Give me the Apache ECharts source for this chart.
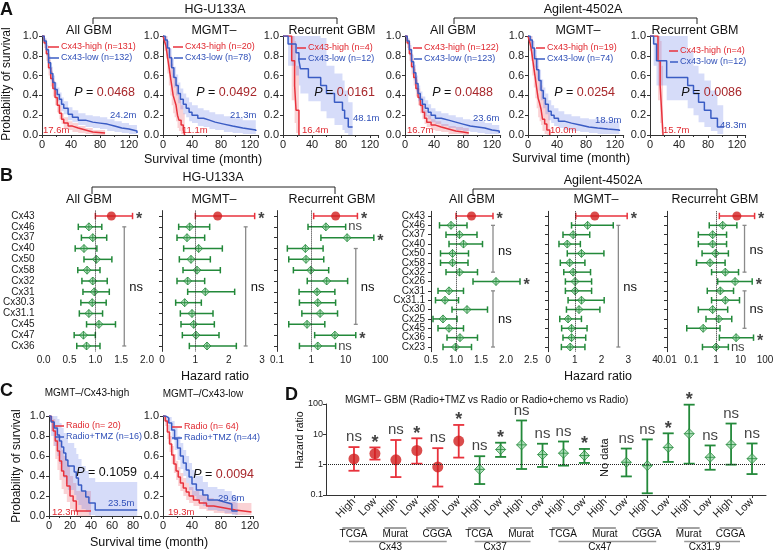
<!DOCTYPE html>
<html><head><meta charset="utf-8"><title>Cx43 survival and hazard ratios</title>
<script src="https://cdn.jsdelivr.net/npm/echarts@6/dist/echarts.min.js"></script>
<style>html,body{margin:0;padding:0;background:#fff;}#chart{width:779px;height:551px;}</style>
</head><body><div id="chart"></div>
<script>
// ---------------- DATA ----------------
// Panel A: Kaplan-Meier curves (time in months, survival, lower CI, upper CI)
// HG-U133A All GBM
const a1hT=[0,3,6,9,12,15,18,21,24,27,30,36,42,50,60,70,87];
const a1hS=[1,0.93,0.82,0.68,0.57,0.47,0.38,0.3,0.22,0.16,0.12,0.09,0.07,0.05,0.03,0.02,0.02];
const a1hL=[1,0.88,0.75,0.6,0.49,0.39,0.3,0.23,0.16,0.11,0.07,0.05,0.03,0.02,0.01,0,0];
const a1hU=[1,0.97,0.88,0.76,0.65,0.55,0.46,0.38,0.29,0.22,0.18,0.14,0.12,0.09,0.07,0.05,0.05];
const a1lT=[0,3,6,9,12,15,18,21,24,27,30,36,42,50,60,70,80,90,100,110,120,131];
const a1lS=[1,0.95,0.86,0.73,0.62,0.53,0.46,0.41,0.36,0.31,0.27,0.21,0.18,0.15,0.13,0.12,0.11,0.09,0.07,0.06,0.04,0.02];
const a1lL=[1,0.91,0.8,0.66,0.55,0.46,0.39,0.34,0.29,0.24,0.21,0.15,0.13,0.1,0.08,0.07,0.06,0.04,0.03,0.02,0.01,0];
const a1lU=[1,0.98,0.91,0.8,0.69,0.6,0.53,0.48,0.43,0.38,0.34,0.28,0.25,0.22,0.2,0.19,0.18,0.16,0.14,0.12,0.1,0.08];
// HG-U133A MGMT-
const a2hT=[0,2,4,6,8,10,12,14,16,18,20,22,25,28,30];
const a2hS=[1,0.95,0.9,0.8,0.7,0.6,0.5,0.4,0.35,0.3,0.2,0.15,0.1,0.05,0];
const a2hL=[1,0.85,0.77,0.62,0.5,0.4,0.3,0.22,0.18,0.14,0.07,0.04,0.01,0,0];
const a2hU=[1,1,1,0.95,0.88,0.8,0.72,0.62,0.57,0.52,0.42,0.36,0.3,0.22,0.15];
const a2lT=[0,3,6,9,12,15,18,21,24,28,32,36,40,48,56,64,72,84,96,110,128];
const a2lS=[1,0.96,0.88,0.78,0.68,0.58,0.5,0.42,0.36,0.31,0.27,0.23,0.2,0.17,0.15,0.13,0.11,0.09,0.07,0.05,0.04];
const a2lL=[1,0.91,0.8,0.69,0.58,0.48,0.4,0.32,0.26,0.21,0.18,0.14,0.12,0.09,0.08,0.06,0.05,0.03,0.02,0.01,0.01];
const a2lU=[1,1,0.95,0.87,0.78,0.69,0.61,0.53,0.47,0.42,0.38,0.33,0.3,0.27,0.25,0.23,0.21,0.19,0.17,0.15,0.14];
// HG-U133A Recurrent GBM
const a3hT=[0,12,16,18,22];
const a3hS=[1,0.75,0.5,0.25,0];
const a3hL=[1,0.35,0.12,0.02,0];
const a3hU=[1,1,0.95,0.7,0.45];
const a3lT=[0,7,18,22,24,35,52,60,71,82,85,90,96];
const a3lS=[1,0.92,0.83,0.75,0.67,0.58,0.5,0.42,0.33,0.25,0.17,0.08,0.08];
const a3lL=[1,0.7,0.6,0.5,0.42,0.34,0.24,0.17,0.1,0.05,0.02,0,0];
const a3lU=[1,1,1,1,1,1,0.98,0.7,0.62,0.55,0.45,0.33,0.33];
// Agilent-4502A All GBM
const a4hT=[0,3,6,9,12,15,18,21,24,27,30,36,42,50,60,70,80,88];
const a4hS=[1,0.93,0.82,0.69,0.58,0.47,0.38,0.3,0.23,0.17,0.13,0.1,0.08,0.06,0.04,0.03,0.02,0.02];
const a4hL=[1,0.88,0.75,0.61,0.5,0.39,0.3,0.22,0.16,0.11,0.08,0.05,0.04,0.03,0.01,0.01,0,0];
const a4hU=[1,0.97,0.88,0.77,0.67,0.56,0.47,0.39,0.31,0.25,0.2,0.16,0.14,0.11,0.09,0.08,0.07,0.07];
const a4lT=[0,3,6,9,12,15,18,21,24,28,32,36,42,50,60,70,80,90,100,110,120,130];
const a4lS=[1,0.95,0.86,0.74,0.63,0.52,0.42,0.36,0.31,0.27,0.23,0.2,0.17,0.15,0.13,0.11,0.09,0.08,0.07,0.05,0.04,0.02];
const a4lL=[1,0.91,0.8,0.67,0.55,0.44,0.34,0.28,0.23,0.19,0.16,0.13,0.11,0.09,0.07,0.05,0.04,0.03,0.02,0.01,0.01,0];
const a4lU=[1,0.98,0.91,0.81,0.71,0.6,0.5,0.44,0.39,0.35,0.31,0.27,0.24,0.22,0.2,0.18,0.16,0.15,0.14,0.12,0.1,0.08];
// Agilent-4502A MGMT-
const a5hT=[0,2,4,6,8,10,12,14,16,18,20,23,26,30];
const a5hS=[1,0.95,0.89,0.79,0.68,0.58,0.47,0.37,0.32,0.26,0.16,0.11,0.05,0];
const a5hL=[1,0.85,0.75,0.6,0.48,0.37,0.27,0.18,0.14,0.1,0.04,0.01,0,0];
const a5hU=[1,1,1,0.95,0.88,0.8,0.7,0.6,0.55,0.5,0.38,0.32,0.24,0.15];
const a5lT=[0,3,6,9,12,15,18,21,24,28,32,36,42,50,60,72,84,96,110,126];
const a5lS=[1,0.96,0.88,0.77,0.66,0.55,0.45,0.37,0.31,0.24,0.2,0.17,0.14,0.12,0.1,0.08,0.07,0.06,0.05,0.04];
const a5lL=[1,0.91,0.8,0.68,0.56,0.45,0.35,0.27,0.21,0.15,0.12,0.09,0.07,0.05,0.04,0.03,0.02,0.01,0.01,0];
const a5lU=[1,1,0.95,0.86,0.76,0.66,0.56,0.48,0.42,0.35,0.3,0.27,0.24,0.21,0.19,0.17,0.16,0.15,0.14,0.13];
// Agilent-4502A Recurrent GBM
const a6hT=[0,11,14,16,18];
const a6hS=[1,0.75,0.5,0.25,0];
const a6hL=[1,0.35,0.12,0.02,0];
const a6hU=[1,1,0.95,0.7,0.45];
const a6lT=[0,5,9,23,52,60,67,75,84,93,101];
const a6lS=[1,0.92,0.75,0.58,0.5,0.42,0.33,0.25,0.17,0.08,0.08];
const a6lL=[1,0.7,0.5,0.35,0.27,0.2,0.13,0.08,0.04,0.01,0.01];
const a6lU=[1,1,1,1,0.85,0.7,0.62,0.55,0.45,0.3,0.3];

// Panel C: MGMT-/Cx43-high and MGMT-/Cx43-low, Radio vs Radio+TMZ
const c1rT=[0,2,4,6,8,10,12,14,17,20,23,26,40];
const c1rS=[1,0.95,0.85,0.75,0.65,0.55,0.45,0.4,0.3,0.2,0.15,0.05,0.05];
const c1rL=[1,0.85,0.7,0.57,0.46,0.36,0.27,0.22,0.14,0.07,0.04,0,0];
const c1rU=[1,1,0.97,0.9,0.82,0.74,0.66,0.6,0.5,0.4,0.33,0.25,0.25];
const c1bT=[0,2,5,8,10,12,14,16,18,24,26,28,31,35,38,44,84];
const c1bS=[1,0.94,0.88,0.81,0.75,0.69,0.63,0.56,0.5,0.44,0.38,0.31,0.25,0.19,0.13,0.06,0.06];
const c1bL=[1,0.8,0.7,0.6,0.52,0.45,0.38,0.32,0.26,0.21,0.16,0.11,0.07,0.04,0.01,0,0];
const c1bU=[1,1,1,0.97,0.93,0.88,0.83,0.78,0.73,0.68,0.62,0.57,0.5,0.45,0.38,0.34,0.34];
const c2rT=[0,3,6,9,12,15,18,21,24,28,32,36,42,50,60,70,85,100,122];
const c2rS=[1,0.95,0.84,0.72,0.61,0.52,0.45,0.39,0.33,0.28,0.24,0.2,0.16,0.13,0.1,0.08,0.06,0.04,0.04];
const c2rL=[1,0.9,0.77,0.64,0.52,0.43,0.36,0.3,0.25,0.2,0.16,0.13,0.1,0.07,0.05,0.03,0.02,0.01,0.01];
const c2rU=[1,0.99,0.91,0.8,0.7,0.62,0.55,0.49,0.43,0.38,0.33,0.29,0.25,0.21,0.18,0.16,0.14,0.13,0.13];
const c2bT=[0,4,8,12,16,20,24,28,32,36,40,46,55,62,75,85,95,103];
const c2bS=[1,0.98,0.93,0.86,0.77,0.68,0.6,0.53,0.46,0.39,0.32,0.26,0.21,0.16,0.14,0.12,0.05,0.05];
const c2bL=[1,0.93,0.85,0.76,0.66,0.56,0.47,0.4,0.33,0.26,0.2,0.15,0.1,0.06,0.05,0.03,0.01,0.01];
const c2bU=[1,1,0.99,0.95,0.88,0.8,0.73,0.66,0.6,0.53,0.46,0.4,0.34,0.29,0.27,0.25,0.2,0.2];

// Panel B: forest plots (hazard ratio, lower, upper, significance)
const hgGenes=['Cx43','Cx46','Cx37','Cx40','Cx50','Cx58','Cx32','Cx31','Cx30.3','Cx31.1','Cx45','Cx47','Cx36'];
const agGenes=['Cx43','Cx46','Cx37','Cx40','Cx50','Cx58','Cx32','Cx26','Cx31','Cx31.1','Cx30','Cx25','Cx45','Cx36','Cx23'];
const b1HR=[1.31,0.875,0.95,0.78,1.02,0.84,0.95,0.98,0.94,0.875,1.07,0.77,0.83];
const b1Lo=[1.0,0.67,0.73,0.61,0.78,0.66,0.74,0.76,0.72,0.69,0.83,0.59,0.64];
const b1Hi=[1.72,1.125,1.22,1.03,1.32,1.09,1.23,1.27,1.21,1.14,1.39,1.0,1.09];
const b1Sig=['*','','','','','','','','','','','',''];
const b2HR=[1.67,0.83,0.75,1.1,0.87,1.05,0.77,1.3,0.68,0.9,0.95,1.02,1.35];
const b2Lo=[1.0,0.5,0.45,0.65,0.52,0.63,0.45,0.77,0.41,0.55,0.57,0.61,0.82];
const b2Hi=[2.78,1.43,1.28,1.81,1.45,1.75,1.28,2.18,1.18,1.53,1.57,1.71,2.23];
const b2Sig=['*','','','','','','','','','','','',''];
const b3HR=[5.1,2.65,11,0.67,0.7,0.96,2.8,1.47,1.54,1.8,0.75,4.85,1.54];
const b3Lo=[1.17,0.8,1.9,0.2,0.22,0.3,0.76,0.44,0.45,0.53,0.22,1.25,0.45];
const b3Hi=[22,10,66,2.2,2.3,3.2,11.4,4.85,5.1,5.8,2.47,19.7,5.1];
const b3Sig=['*','ns','*','','','','','','','','','*','ns'];
const b4HR=[1.31,0.9,1.07,1.15,0.93,0.93,1.07,1.8,0.86,0.78,1.22,0.74,0.86,1.08,0.99];
const b4Lo=[1.0,0.67,0.8,0.86,0.69,0.69,0.8,1.34,0.64,0.59,0.92,0.54,0.64,0.82,0.74];
const b4Hi=[1.74,1.22,1.42,1.53,1.25,1.24,1.43,2.28,1.15,1.05,1.63,1.02,1.15,1.43,1.31];
const b4Sig=['*','','','','','','','*','','','','','','',''];
const b5HR=[1.75,1.48,0.94,0.72,1.25,0.81,0.94,1.01,1.01,1.25,1.16,0.75,0.88,0.88,0.83];
const b5Lo=[1.04,0.88,0.56,0.41,0.72,0.46,0.59,0.65,0.65,0.75,0.69,0.44,0.51,0.56,0.5];
const b5Hi=[2.96,2.44,1.56,1.21,2.09,1.38,1.59,1.63,1.63,2.1,1.94,1.25,1.46,1.41,1.38];
const b5Sig=['*','','','','','','','','','','','','','',''];
const b6HR=[7.1,1.88,0.73,0.73,0.94,0.57,2.4,6.0,1.5,2.4,0.73,1.29,0.3,6.6,1.0];
const b6Lo=[1.37,0.53,0.19,0.19,0.27,0.16,0.66,1.17,0.44,0.66,0.19,0.39,0.064,1.37,0.28];
const b6Hi=[37.6,7.1,2.7,2.7,3.2,2.35,8.3,30,5.2,9.1,3.0,4.4,1.46,34,3.2];
const b6Sig=['*','','','','','','','*','','','','','','*','ns'];

// Panel D: MGMT- GBM hazard ratios
const dGene=['Cx43','Cx43','Cx43','Cx43','Cx43','Cx43','Cx37','Cx37','Cx37','Cx37','Cx47','Cx47','Cx47','Cx47','Cx47','Cx47','Cx31.9','Cx31.9','Cx31.9','Cx31.9'];
const dCohort=['TCGA','TCGA','Murat','Murat','CGGA','CGGA','TCGA','TCGA','Murat','Murat','TCGA','TCGA','Murat','Murat','CGGA','CGGA','Murat','Murat','CGGA','CGGA'];
const dLevel=['High','Low','High','Low','High','Low','High','Low','High','Low','High','Low','High','Low','High','Low','High','Low','High','Low'];
const dHR=[1.55,2.33,1.45,2.93,0.84,6.0,0.7,3.16,4.5,2.15,2.39,2.0,null,1.2,0.93,3.7,10.5,1.75,4.6,1.58];
const dLo=[0.63,1.47,0.39,1.08,0.19,1.71,0.23,1.8,0.72,0.84,0.93,1.14,null,0.41,0.114,1.23,1.08,0.68,1.0,0.49];
const dHi=[3.8,3.7,6.5,7.4,3.5,20.4,1.9,5.3,28.6,4.9,5.8,3.3,null,3.4,6.8,10.8,95,4.3,22.7,5.0];
const dSig=['ns','*','ns','*','ns','*','ns','*','ns','ns','ns','*','','ns','ns','*','*','ns','ns','ns'];

// ---------------- STYLE ----------------
const FONT="'Liberation Sans',Arial,Helvetica,sans-serif";
const AX='#333';
const RED='#e8323c', BLUE='#3a5cc4', PRED='#a8282c';
const RTXT='#e0282f', BTXT='#3050b8';
const RFILL='rgba(240,105,115,0.30)', BFILL='rgba(105,125,232,0.27)';
const GREEN='#23893a', GFILL='rgba(150,210,165,0.9)', DOT='#d11f1f';
const DIAMOND='path://M5,0L10,5L5,10L0,5Z M5,0L5,10 M0,5L10,5';

const grids=[], xAxes=[], yAxes=[], series=[];

function kmAxes(left, top, width, height, max, interval){
  const gi=grids.length;
  grids.push({left, top, width, height});
  xAxes.push({gridIndex:gi, type:'value', min:0, max, interval,
    axisLine:{lineStyle:{color:AX,width:1}}, axisTick:{length:3,lineStyle:{color:AX}},
    minorTick:{show:true,splitNumber:2,length:2,lineStyle:{color:AX}},
    splitLine:{show:false}, minorSplitLine:{show:false},
    axisLabel:{fontSize:11,fontFamily:FONT,color:'#222',margin:4,showMaxLabel:false}});
  yAxes.push({gridIndex:gi, type:'value', min:0, max:1, interval:0.2,
    axisLine:{show:true,lineStyle:{color:AX}}, axisTick:{show:true,length:3,lineStyle:{color:AX}},
    splitLine:{show:false},
    axisLabel:{fontSize:11,fontFamily:FONT,color:'#222',margin:4,formatter:v=>v.toFixed(1)}});
  return gi;
}
// confidence band: one polygon drawn from all (t, tNext, lower, upper) items of the series
function bandSeries(gi,T,L,U,fill){
  series.push({type:'custom',xAxisIndex:gi,yAxisIndex:gi,silent:true,z:2,
    data:T.map((t,i)=>[t,i<T.length-1?T[i+1]:t,L[i],U[i]]), encode:{x:[0,1],y:[2,3]},
    renderItem:(p,api)=>{
      if(p.dataIndexInside!==0) return null;
      const n=p.dataInsideLength, top=[], bot=[];
      for(let j=0;j<n;j++){
        const t0=api.value(0,j), t1=api.value(1,j), lo=api.value(2,j), hi=api.value(3,j);
        top.push(api.coord([t0,hi]),api.coord([t1,hi]));
        bot.push(api.coord([t0,lo]),api.coord([t1,lo]));
      }
      return {type:'polygon',shape:{points:top.concat(bot.reverse())},style:{fill,stroke:null}};
    }});
}
function km(gi,T,S,L,U,color,fill){
  bandSeries(gi,T,L,U,fill);
  series.push({type:'line',xAxisIndex:gi,yAxisIndex:gi,step:'end',symbol:'none',silent:true,z:3,
    lineStyle:{width:1.5,color},data:T.map((t,i)=>[t,S[i]])});
}

function forestAxes(left, top, width, height, xa, cats, showLabels, showLine, margin){
  const gi=grids.length;
  grids.push({left, top, width, height});
  const x={gridIndex:gi, axisLine:{lineStyle:{color:AX}}, axisTick:{length:3,lineStyle:{color:AX}},
    splitLine:{show:false}, axisLabel:{fontSize:10,fontFamily:FONT,color:'#222',margin:4}};
  Object.keys(xa).forEach(k=>{ if(k==='fmt') x.axisLabel.formatter=xa.fmt; else x[k]=xa[k]; });
  xAxes.push(x);
  yAxes.push({gridIndex:gi, type:'category', data:cats, inverse:true,
    axisLine:{show:showLine,lineStyle:{color:AX}}, axisTick:{show:showLine,alignWithLabel:true,length:3,lineStyle:{color:AX}},
    axisLabel:{show:showLabels,interval:0,fontSize:10,fontFamily:FONT,color:'#222',margin:margin}, splitLine:{show:false}});
  return gi;
}
function forest(gi,cats,HR,LO,HI,SIG,BRK){
  series.push({type:'custom',xAxisIndex:gi,yAxisIndex:gi,silent:true,z:3,
    data:cats.map((c,i)=>[LO[i],HI[i],i]), encode:{x:[0,1],y:2},
    renderItem:(p,api)=>{
      const i=api.value(2);
      const a=api.coord([api.value(0),i]), b=api.coord([api.value(1),i]);
      const st={stroke:i===0?RED:GREEN,lineWidth:1.5}, h=3.2;
      return {type:'group',children:[
        {type:'line',shape:{x1:a[0],y1:a[1],x2:b[0],y2:b[1]},style:st},
        {type:'line',shape:{x1:a[0],y1:a[1]-h,x2:a[0],y2:a[1]+h},style:st},
        {type:'line',shape:{x1:b[0],y1:b[1]-h,x2:b[0],y2:b[1]+h},style:st}]};
    }});
  series.push({type:'scatter',xAxisIndex:gi,yAxisIndex:gi,silent:true,z:4,symbol:'circle',symbolSize:9,
    itemStyle:{color:DOT}, data:[[HR[0],0]],
    markLine:{silent:true,symbol:'none',label:{show:false},animation:false,
      lineStyle:{type:'dotted',color:'#222',width:1},data:[{xAxis:1}]}});
  series.push({type:'scatter',xAxisIndex:gi,yAxisIndex:gi,silent:true,z:4,symbol:DIAMOND,symbolSize:8,
    itemStyle:{color:GFILL,borderColor:GREEN,borderWidth:1}, data:HR.slice(1).map((v,k)=>[v,k+1])});
  series.push({type:'scatter',xAxisIndex:gi,yAxisIndex:gi,silent:true,z:5,symbolSize:1,itemStyle:{color:'rgba(0,0,0,0)'},
    data:SIG.map((s,i)=>s?{value:[HI[i],i],label:{show:true,formatter:s,position:'right',distance:s==='*'?3:2,
      fontSize:s==='*'?16:13,fontWeight:s==='*'?'bold':'normal',offset:s==='*'?[0,4]:[0,0],fontFamily:FONT,color:'#111'}}:null).filter(Boolean)});
  series.push({type:'custom',xAxisIndex:gi,yAxisIndex:gi,silent:true,z:3,
    data:BRK.map(b=>[b.x,b.from,b.to,b.lab]),
    renderItem:(p,api)=>{
      const x=api.value(0), f=api.value(1), t=api.value(2), l=api.value(3);
      const a=api.coord([x,f]), b=api.coord([x,t]);
      const l0=Math.floor(l), fr=l-l0;
      const y0=api.coord([x,l0])[1], y1=api.coord([x,l0+1])[1];
      const ly=y0+(y1-y0)*fr;
      const st={stroke:'#8a8a8a',lineWidth:1.3};
      return {type:'group',children:[
        {type:'line',shape:{x1:a[0],y1:a[1],x2:b[0],y2:b[1]},style:st},
        {type:'line',shape:{x1:a[0]-2,y1:a[1],x2:a[0]+2,y2:a[1]},style:st},
        {type:'line',shape:{x1:b[0]-2,y1:b[1],x2:b[0]+2,y2:b[1]},style:st},
        {type:'text',x:a[0]+5,y:ly,style:{text:'ns',fill:'#111',font:'13px '+FONT,align:'left',verticalAlign:'middle'}}]};
    }});
}

// ---------------- PANEL A ----------------
const aDefs=[[42,a1hT,a1hS,a1hL,a1hU,a1lT,a1lS,a1lL,a1lU],[163,a2hT,a2hS,a2hL,a2hU,a2lT,a2lS,a2lL,a2lU],
  [283,a3hT,a3hS,a3hL,a3hU,a3lT,a3lS,a3lL,a3lU],[405,a4hT,a4hS,a4hL,a4hU,a4lT,a4lS,a4lL,a4lU],
  [528,a5hT,a5hS,a5hL,a5hU,a5lT,a5lS,a5lL,a5lU],[650,a6hT,a6hS,a6hL,a6hU,a6lT,a6lS,a6lL,a6lU]];
aDefs.forEach(d=>{
  const g=kmAxes(d[0],36,95.7,99,132,40);
  km(g,d[1],d[2],d[3],d[4],RED,RFILL);
  km(g,d[5],d[6],d[7],d[8],BLUE,BFILL);
});
// ---------------- PANEL B ----------------
const b1Brk=[{x:1.56,from:1,to:12,lab:6.6}];
const b2Brk=[{x:2.51,from:1,to:12,lab:6.6}];
const b3Brk=[{x:19.7,from:3,to:10,lab:6.6}];
const b4Brk=[{x:1.74,from:1,to:6,lab:3.8},{x:1.74,from:8,to:14,lab:11}];
const b5Brk=[{x:2.63,from:1,to:14,lab:7.6}];
const b6Brk=[{x:14.6,from:1,to:6,lab:3.7},{x:14.6,from:8,to:12,lab:10}];
let g;
g=forestAxes(42,210.6,105,140.8,{type:'value',min:0,max:2,interval:0.5,fmt:v=>v.toFixed(1)},hgGenes,true,false,9);
forest(g,hgGenes,b1HR,b1Lo,b1Hi,b1Sig,b1Brk);
g=forestAxes(162,210.6,100,140.8,{type:'value',min:0,max:3,interval:1},hgGenes,false,true,4);
forest(g,hgGenes,b2HR,b2Lo,b2Hi,b2Sig,b2Brk);
g=forestAxes(277,210.6,103,140.8,{type:'log',logBase:10,min:0.1,max:100},hgGenes,false,true,4);
forest(g,hgGenes,b3HR,b3Lo,b3Hi,b3Sig,b3Brk);
g=forestAxes(431,211.3,100,140.4,{type:'value',min:0.5,max:2.5,interval:0.5,fmt:v=>v.toFixed(1)},agGenes,true,true,6);
forest(g,agGenes,b4HR,b4Lo,b4Hi,b4Sig,b4Brk);
g=forestAxes(548,211.3,107,140.4,{type:'value',min:0,max:4,interval:1},agGenes,false,true,4);
forest(g,agGenes,b5HR,b5Lo,b5Hi,b5Sig,b5Brk);
g=forestAxes(667,211.3,98,140.4,{type:'log',logBase:10,min:0.01,max:100},agGenes,false,true,4);
forest(g,agGenes,b6HR,b6Lo,b6Hi,b6Sig,b6Brk);
// ---------------- PANEL C ----------------
g=kmAxes(49,416,92.4,100,88,20);
km(g,c1rT,c1rS,c1rL,c1rU,RED,RFILL); km(g,c1bT,c1bS,c1bL,c1bU,BLUE,BFILL);
g=kmAxes(163,416,90.6,100,125,40);
km(g,c2rT,c2rS,c2rL,c2rU,RED,RFILL); km(g,c2bT,c2bS,c2bL,c2bU,BLUE,BFILL);
// ---------------- PANEL D ----------------
const gDA=grids.length;
grids.push({left:326,top:404,width:440,height:91});
xAxes.push({gridIndex:gDA,type:'value',min:0,max:1,axisLine:{lineStyle:{color:AX}},axisTick:{show:false},axisLabel:{show:false},splitLine:{show:false}});
yAxes.push({gridIndex:gDA,type:'log',logBase:10,min:0.1,max:100,axisLine:{show:true,lineStyle:{color:AX}},
  axisTick:{show:true,length:3,lineStyle:{color:AX}},splitLine:{show:false},
  axisLabel:{fontSize:9,fontFamily:FONT,color:'#222',margin:3}});
series.push({type:'line',xAxisIndex:gDA,yAxisIndex:gDA,symbol:'none',silent:true,data:[[0,1]],
  markLine:{silent:true,symbol:'none',label:{show:false},animation:false,lineStyle:{type:'dotted',color:'#222',width:1},data:[{yAxis:1}]}});
const gDD=grids.length;
const dCats=dLevel.map((l,i)=>dGene[i]+'|'+dCohort[i]+'|'+l);
grids.push({left:343.5,top:404,width:419,height:91});
xAxes.push({gridIndex:gDD,type:'category',data:dCats,axisLine:{show:false},
  axisTick:{show:true,alignWithLabel:true,length:3,lineStyle:{color:AX}},
  axisLabel:{interval:0,rotate:45,fontSize:11,fontFamily:FONT,color:'#222',margin:5,formatter:v=>v.split('|')[2]}});
yAxes.push({gridIndex:gDD,type:'log',logBase:10,min:0.1,max:100,show:false});
const dIdx=dHR.map((v,i)=>v==null?-1:i).filter(i=>i>=0);
series.push({type:'custom',xAxisIndex:gDD,yAxisIndex:gDD,silent:true,z:3,
  data:dIdx.map(i=>[i,dLo[i],dHi[i]]),encode:{x:0,y:[1,2]},
  renderItem:(p,api)=>{
    const i=api.value(0);
    const a=api.coord([i,api.value(1)]), b=api.coord([i,api.value(2)]);
    const st={stroke:dGene[i]==='Cx43'?RED:GREEN,lineWidth:1.8}, w=5.5;
    return {type:'group',children:[
      {type:'line',shape:{x1:a[0],y1:a[1],x2:b[0],y2:b[1]},style:st},
      {type:'line',shape:{x1:a[0]-w,y1:a[1],x2:a[0]+w,y2:a[1]},style:st},
      {type:'line',shape:{x1:b[0]-w,y1:b[1],x2:b[0]+w,y2:b[1]},style:st}]};
  }});
series.push({type:'scatter',xAxisIndex:gDD,yAxisIndex:gDD,silent:true,z:4,symbol:'circle',symbolSize:11,itemStyle:{color:DOT},
  data:dIdx.filter(i=>dGene[i]==='Cx43').map(i=>[i,dHR[i]])});
series.push({type:'scatter',xAxisIndex:gDD,yAxisIndex:gDD,silent:true,z:4,symbol:DIAMOND,symbolSize:10,
  itemStyle:{color:GFILL,borderColor:GREEN,borderWidth:1},data:dIdx.filter(i=>dGene[i]!=='Cx43').map(i=>[i,dHR[i]])});
series.push({type:'scatter',xAxisIndex:gDD,yAxisIndex:gDD,silent:true,z:5,symbolSize:1,itemStyle:{color:'rgba(0,0,0,0)'},
  data:dIdx.filter(i=>dSig[i]).map(i=>({value:[i,dHi[i]],label:{show:true,formatter:dSig[i],position:'top',distance:2,
    fontSize:dSig[i]==='*'?18:15,fontWeight:dSig[i]==='*'?'bold':'normal',offset:dSig[i]==='*'?[0,7]:[0,0],fontFamily:FONT,color:'#111'}}))});

const chart=echarts.init(document.getElementById('chart'),null,{renderer:'canvas'});
chart.setOption({animation:false,backgroundColor:'#fff',grid:grids,xAxis:xAxes,yAxis:yAxes,series:series});

// ---------------- ANNOTATIONS ----------------
function txt(x,y,text,o){o=o||{};return {type:'text',z:100,x,y,rotation:o.rot||0,
  style:{text,fill:o.color||'#111',font:(o.weight?o.weight+' ':'')+(o.size||12)+'px '+FONT,
  align:o.align||'left',verticalAlign:o.va||'middle',rich:o.rich}};}
function pl(points,color,w){return {type:'polyline',z:100,shape:{points},style:{stroke:color||'#222',lineWidth:w||1,fill:null}};}
function legend(x1,x2,y,color,tcolor,text,size){return [pl([[x1,y],[x2,y]],color,1.5),txt(x2+2,y,text,{color:tcolor,size:size||9})];}
function pval(x,y,val,sig){return txt(x,y,'{i|P} = '+(sig?'{r|'+val+'}':val),{size:12.5,align:'right',
  rich:{i:{font:'italic 12.5px '+FONT,fill:'#111'},r:{font:'12.5px '+FONT,fill:PRED}}});}
const G=[];
// letters
G.push(txt(0,1,'A',{size:18,weight:'bold',va:'top'}),txt(0,167,'B',{size:18,weight:'bold',va:'top'}),
  txt(0,382,'C',{size:18,weight:'bold',va:'top'}),txt(285,386,'D',{size:18,weight:'bold',va:'top'}));
// panel A
G.push(txt(215,10,'HG-U133A',{size:12.5,align:'center'}),pl([[93,24],[93,18],[337,18],[337,24]]));
G.push(txt(583,10,'Agilent-4502A',{size:12.5,align:'center'}),pl([[454,24],[454,18],[697,18],[697,24]]));
[['All GBM',89],['MGMT–',214],['Recurrent GBM',332],['All GBM',453],['MGMT–',578],['Recurrent GBM',695]]
  .forEach(t=>G.push(txt(t[1],31,t[0],{size:12.5,align:'center'})));
G.push(txt(7,84,'Probability of survival',{size:12,align:'center',rot:Math.PI/2}));
G.push(txt(203,160,'Survival time (month)',{size:12.5,align:'center'}),txt(571,159,'Survival time (month)',{size:12.5,align:'center'}));
const aLeg=[[48,59,47,'131','132'],[173,183,47,'20','78'],[297,306,48,'4','12'],[413,422,48,'122','123'],[536,545,48,'19','74'],[669,678,51,'4','12']];
aLeg.forEach(l=>{G.push(...legend(l[0],l[1],l[2],RED,RTXT,'Cx43-high (n='+l[3]+')'));G.push(...legend(l[0]+1,l[1],l[2]+11,BLUE,BTXT,'Cx43-low (n='+l[4]+')'));});
[[135,'0.0468'],[257,'0.0492'],[375,'0.0161'],[493,'0.0488'],[615,'0.0254'],[742,'0.0086']].forEach(p=>G.push(pval(p[0],93,p[1],true)));
[[43,130,'17.6m',RTXT],[110,115,'24.2m',BTXT],[182,130,'11.1m',RTXT],[230,115,'21.3m',BTXT],
 [302,130,'16.4m',RTXT],[353,118,'48.1m',BTXT],[407,130,'16.7m',RTXT],[473,118,'23.6m',BTXT],
 [550,130,'10.0m',RTXT],[595,120,'18.9m',BTXT],[663,130,'15.7m',RTXT],[720,125,'48.3m',BTXT],
 [52,512,'12.3m',RTXT],[108,503,'23.5m',BTXT],[168,512,'19.3m',RTXT],[218,498,'29.6m',BTXT]]
 .forEach(m=>G.push(txt(m[0],m[1],m[2],{size:9.5,color:m[3]})));
// panel B
G.push(txt(213,178,'HG-U133A',{size:12.5,align:'center'}),pl([[92,194],[92,187],[335,187],[335,194]]));
G.push(txt(603,181,'Agilent-4502A',{size:12.5,align:'center'}),pl([[473,196],[473,189],[717,189],[717,196]]));
[['All GBM',89],['MGMT–',214],['Recurrent GBM',332],['All GBM',472],['MGMT–',596],['Recurrent GBM',715]]
  .forEach(t=>G.push(txt(t[1],200,t[0],{size:12.5,align:'center'})));
G.push(txt(215,377,'Hazard ratio',{size:12.5,align:'center'}),txt(598,377,'Hazard ratio',{size:12.5,align:'center'}));
// panel C
G.push(txt(87,393,'MGMT–/Cx43-high',{size:10,align:'center'}),txt(203,394,'MGMT–/Cx43-low',{size:10,align:'center'}));
G.push(txt(17,466,'Probability of survival',{size:12,align:'center',rot:Math.PI/2}));
G.push(txt(149,543,'Survival time (month)',{size:12.5,align:'center'}));
G.push(...legend(55,64,426,RED,RTXT,'Radio (n= 20)'),...legend(55,64,437,BLUE,BTXT,'Radio+TMZ (n=16)'));
G.push(...legend(172,182,427,RED,RTXT,'Radio (n= 64)'),...legend(172,182,438,BLUE,BTXT,'Radio+TMZ (n=44)'));
G.push(pval(137,473,'0.1059',false),pval(254,475,'0.0094',true));
// panel D
G.push(txt(345,400,'MGMT– GBM (Radio+TMZ vs Radio or Radio+chemo vs Radio)',{size:10}));
G.push(txt(300,440,'Hazard ratio',{size:10.5,align:'center',rot:Math.PI/2}));
const PX=i=>chart.convertToPixel({gridIndex:gDD},[i,1]);
for(let k=0;k<dCats.length;k+=2){
  const cx=(PX(k)[0]+PX(k+1)[0])/2-11;
  G.push(pl([[cx-11,528],[cx+11,528]],'#444',1),txt(cx,529,dCohort[k],{size:10,align:'center',va:'top'}));
}
const genes=[...new Set(dGene)];
genes.forEach(gn=>{
  const f=dGene.indexOf(gn), l=dGene.lastIndexOf(gn);
  const x0=PX(f)[0], x1=PX(l)[0];
  G.push(pl([[x0-5,541.5],[x1-12,541.5]],'#999',1.5),txt((x0+x1)/2-16,542,gn,{size:10,align:'center',va:'top'}));
});
dHR.forEach((v,i)=>{ if(v==null){ const p=PX(i); G.push(txt(p[0],p[1]-7,'No data',{size:11,align:'center',rot:Math.PI/2})); }});
chart.setOption({graphic:G});
</script></body></html>
